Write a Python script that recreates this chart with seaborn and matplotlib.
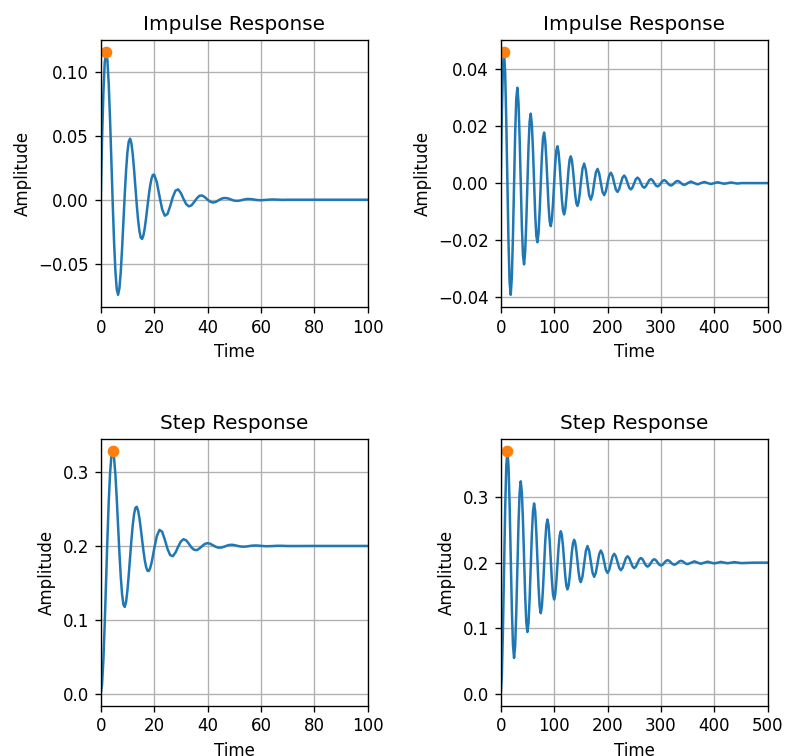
import numpy as np
import matplotlib
matplotlib.use('Agg')
import matplotlib.pyplot as plt
from matplotlib.ticker import MaxNLocator
import seaborn as sns

# --- fast system (left column), time 0..100 ---
t_fast = [0, 0.5, 1, 1.5, 2, 2.5, 3, 3.5, 4, 4.5, 5, 5.5, 6, 6.5, 7, 7.5, 8, 8.5, 9, 9.5,
          10, 10.5, 11, 11.5, 12, 12.5, 13, 13.5, 14, 14.5, 15, 15.5, 16, 16.5, 17, 17.5,
          18, 18.5, 19, 19.5, 20, 21, 22, 23, 24, 25, 26, 27, 28, 29, 30, 31, 32, 33, 34,
          35, 36, 37, 38, 39, 40, 41, 42, 43, 44, 45, 46, 47, 48, 49, 50, 51, 52, 53, 54,
          55, 56, 57, 58, 59, 60, 62, 64, 66, 68, 70, 80, 90, 100]

impulse_fast = [0, 0.0469, 0.0838, 0.1072, 0.1155, 0.1092, 0.0905, 0.0627, 0.0300, -0.0032,
                -0.0329, -0.0559, -0.0700, -0.0744, -0.0694, -0.0567, -0.0383, -0.0171, 0.0041, 0.0229,
                0.0372, 0.0456, 0.0478, 0.0441, 0.0354, 0.0234, 0.0096, -0.0040, -0.0158, -0.0246,
                -0.0297, -0.0307, -0.0279, -0.0221, -0.0142, -0.0053, 0.0034, 0.0108, 0.0163, 0.0193,
                0.0197, 0.0138, 0.0028, -0.0074, -0.0125, -0.0112, -0.0051, 0.0021, 0.0071, 0.0081,
                0.0053, 0.0007, -0.0034, -0.0052, -0.0044, -0.0018, 0.0011, 0.0031, 0.0033, 0.0020,
                0.0001, -0.0015, -0.0022, -0.0018, -0.0006, 0.0006, 0.0013, 0.0013, 0.0008, 0.0000,
                -0.0007, -0.0009, -0.0007, -0.0002, 0.0003, 0.0006, 0.0005, 0.0003, -0.0001, -0.0003,
                -0.0004, -0.0001, 0.0002, 0.0001, -0.0001, 0.0, 0.0, 0.0, 0.0]

step_fast = [0, 0.0122, 0.0457, 0.0945, 0.1514, 0.2086, 0.2596, 0.2985, 0.3220, 0.3287,
             0.3193, 0.2966, 0.2644, 0.2275, 0.1909, 0.1588, 0.1346, 0.1206, 0.1174, 0.1243,
             0.1397, 0.1608, 0.1847, 0.2081, 0.2283, 0.2433, 0.2517, 0.2530, 0.2479, 0.2376,
             0.2237, 0.2083, 0.1934, 0.1806, 0.1714, 0.1665, 0.1660, 0.1697, 0.1766, 0.1857,
             0.1957, 0.2132, 0.2218, 0.2192, 0.2086, 0.1961, 0.1876, 0.1861, 0.1910, 0.1990,
             0.2060, 0.2091, 0.2076, 0.2030, 0.1979, 0.1947, 0.1943, 0.1966, 0.1999, 0.2027,
             0.2038, 0.2030, 0.2010, 0.1990, 0.1977, 0.1977, 0.1987, 0.2001, 0.2012, 0.2016,
             0.2012, 0.2003, 0.1995, 0.1990, 0.1991, 0.1995, 0.2001, 0.2005, 0.2006, 0.2005,
             0.2001, 0.1996, 0.1998, 0.2002, 0.2002, 0.1999, 0.2, 0.2, 0.2]

# --- slow system (right column), time 0..500 ---
t_slow = [0, 2.08, 4.17, 6.25, 8.33, 10.42, 12.5, 14.58, 16.67, 18.75, 20.83, 22.92,
          25, 27.08, 29.17, 31.25, 33.33, 35.42, 37.5, 39.58, 41.67, 43.75, 45.83, 47.92,
          50, 52.08, 54.17, 56.25, 58.33, 60.42, 62.5, 64.58, 66.67, 68.75, 70.83, 72.92,
          75, 77.08, 79.17, 81.25, 83.33, 85.42, 87.5, 89.58, 91.67, 93.75, 95.83, 97.92,
          100, 102.08, 104.17, 106.25, 108.33, 110.42, 112.5, 114.58, 116.67, 118.75, 120.83, 122.92,
          125, 127.08, 129.17, 131.25, 133.33, 135.42, 137.5, 139.58, 141.67, 143.75, 145.83, 147.92,
          150, 153.12, 156.25, 159.38, 162.5, 165.62, 168.75, 171.88,
          175, 178.12, 181.25, 184.38, 187.5, 190.62, 193.75, 196.88,
          200, 203.12, 206.25, 209.38, 212.5, 215.62, 218.75, 221.88,
          225, 228.12, 231.25, 234.38, 237.5, 240.62, 243.75, 246.88,
          250, 253.12, 256.25, 259.38, 262.5, 265.62, 268.75, 271.88,
          275, 278.12, 281.25, 284.38, 287.5, 290.62, 293.75, 296.88,
          300, 303.12, 306.25, 309.38, 312.5, 315.62, 318.75, 321.88,
          325, 328.12, 331.25, 334.38, 337.5, 340.62, 343.75, 346.88,
          350, 356.25, 362.5, 368.75, 375, 381.25, 387.5, 393.75,
          400, 406.25, 412.5, 418.75, 425, 431.25, 437.5, 443.75, 450, 475, 500]

impulse_slow = [0, 0.02425, 0.04091, 0.04600, 0.03880, 0.02181, 0, -0.02069, -0.03490, -0.03925, -0.03310, -0.01861,
                0, 0.01765, 0.02978, 0.03349, 0.02824, 0.01588, 0, -0.01506, -0.02541, -0.02857, -0.02410, -0.01355,
                0, 0.01285, 0.02168, 0.02438, 0.02056, 0.01156, 0, -0.01096, -0.01850, -0.02080, -0.01754, -0.00986,
                0, 0.00936, 0.01578, 0.01775, 0.01497, 0.00842, 0, -0.00798, -0.01346, -0.01514, -0.01277, -0.00718,
                0, 0.00681, 0.01149, 0.01292, 0.01090, 0.00613, 0, -0.00581, -0.00980, -0.01102, -0.00930, -0.00523,
                0, 0.00496, 0.00836, 0.00940, 0.00793, 0.00446, 0, -0.00423, -0.00714, -0.00802, -0.00677, -0.00381,
                0, 0.00504, 0.00685, 0.00465, 0, -0.00430, -0.00584, -0.00397,
                0, 0.00367, 0.00498, 0.00339, 0, -0.00313, -0.00425, -0.00289,
                0, 0.00267, 0.00363, 0.00247, 0, -0.00228, -0.00310, -0.00210,
                0, 0.00194, 0.00264, 0.00179, 0, -0.00166, -0.00225, -0.00153,
                0, 0.00141, 0.00192, 0.00131, 0, -0.00121, -0.00164, -0.00111,
                0, 0.00103, 0.00140, 0.00095, 0, -0.00088, -0.00119, -0.00081,
                0, 0.00075, 0.00102, 0.00069, 0, -0.00064, -0.00087, -0.00059,
                0, 0.00055, 0.00074, 0.00050, 0, -0.00047, -0.00063, -0.00043,
                0, 0.00054, 0, -0.00046, 0, 0.00039, 0, -0.00034,
                0, 0.00029, 0, -0.00024, 0, 0.00021, 0, -0.00018, 0, 0, 0]

step_slow = [0, 0.0264, 0.0969, 0.1907, 0.2821, 0.3473, 0.3706, 0.3481, 0.2880, 0.2080, 0.1300, 0.0743,
             0.0544, 0.0736, 0.1249, 0.1932, 0.2598, 0.3072, 0.3242, 0.3078, 0.2641, 0.2058, 0.1490, 0.1085,
             0.0940, 0.1080, 0.1453, 0.1951, 0.2435, 0.2781, 0.2904, 0.2785, 0.2466, 0.2042, 0.1629, 0.1334,
             0.1228, 0.1330, 0.1602, 0.1964, 0.2317, 0.2568, 0.2658, 0.2571, 0.2339, 0.2031, 0.1730, 0.1515,
             0.1438, 0.1512, 0.1710, 0.1974, 0.2231, 0.2414, 0.2479, 0.2416, 0.2247, 0.2022, 0.1803, 0.1647,
             0.1591, 0.1645, 0.1789, 0.1981, 0.2168, 0.2301, 0.2349, 0.2303, 0.2180, 0.2016, 0.1857, 0.1743,
             0.1702, 0.1788, 0.1986, 0.2177, 0.2254, 0.2181, 0.2012, 0.1849,
             0.1783, 0.1845, 0.1990, 0.2129, 0.2185, 0.2132, 0.2009, 0.1890,
             0.1842, 0.1887, 0.1993, 0.2094, 0.2135, 0.2096, 0.2006, 0.1920,
             0.1885, 0.1918, 0.1995, 0.2068, 0.2098, 0.2070, 0.2005, 0.1942,
             0.1916, 0.1940, 0.1996, 0.2050, 0.2071, 0.2051, 0.2003, 0.1957,
             0.1939, 0.1957, 0.1997, 0.2036, 0.2052, 0.2037, 0.2002, 0.1969,
             0.1956, 0.1968, 0.1998, 0.2026, 0.2038, 0.2027, 0.2002, 0.1977,
             0.1968, 0.1977, 0.1998, 0.2019, 0.2028, 0.2020, 0.2001, 0.1984,
             0.1977, 0.1999, 0.2020, 0.2000, 0.1983, 0.2000, 0.2015, 0.2000,
             0.1988, 0.2000, 0.2011, 0.2000, 0.1991, 0.2000, 0.2008, 0.2000, 0.1993, 0.2, 0.2]


def plot_response(ax, t, y, title, tmax):
    # response curve
    sns.lineplot(x=t, y=y, ax=ax, color='C0', estimator=None, sort=False)

    # mark the peak value
    i = int(np.argmax(y))
    ax.plot(t[i], y[i], 'o', color='C1')

    ax.set_xlim(0, tmax)
    ax.yaxis.set_major_locator(MaxNLocator(nbins=5, steps=[1, 2, 2.5, 5, 10]))
    ax.set_title(title)
    ax.set_xlabel('Time')
    ax.set_ylabel('Amplitude')
    ax.grid(True)


DPI = 120
fig, axes = plt.subplots(2, 2, figsize=(785 / DPI, 756 / DPI), dpi=DPI)
plt.subplots_adjust(left=0.1283, right=0.978, bottom=0.0665, top=0.9471,
                    wspace=0.498, hspace=0.494)

plot_response(axes[0, 0], t_fast, impulse_fast, 'Impulse Response', 100)
plot_response(axes[0, 1], t_slow, impulse_slow, 'Impulse Response', 500)
plot_response(axes[1, 0], t_fast, step_fast, 'Step Response', 100)
plot_response(axes[1, 1], t_slow, step_slow, 'Step Response', 500)

fig.savefig('out.png', dpi=DPI)
